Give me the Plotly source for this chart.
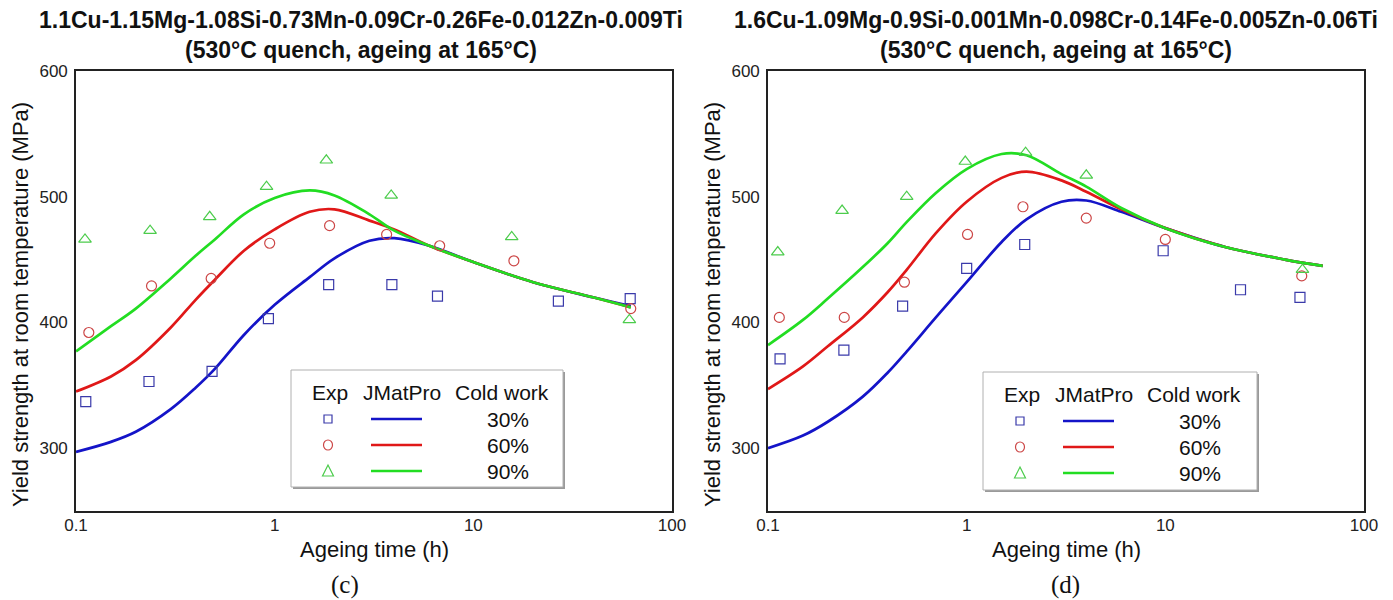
import plotly.graph_objects as go

# ---------------- data ----------------
# Panel (c): 1.1Cu-1.15Mg-1.08Si-...
c_exp30_t = [0.112, 0.233, 0.484, 0.93, 1.87, 3.89, 6.6, 26.8, 61.6]
c_exp30_y = [337, 353, 361, 403, 430, 430, 421, 417, 419]
c_exp60_t = [0.116, 0.24, 0.479, 0.944, 1.89, 3.66, 6.77, 16, 62]
c_exp60_y = [392, 429, 435, 463, 477, 470, 461, 449, 411]
c_exp90_t = [0.111, 0.236, 0.471, 0.91, 1.82, 3.86, 15.6, 61]
c_exp90_y = [466, 473, 484, 508, 529, 501, 468, 402]

model_t = [0.1, 0.15, 0.2, 0.3, 0.4, 0.5, 0.7, 1, 1.5, 2, 3, 4, 6, 10, 20, 40, 62]
c_model30 = [297, 305, 313, 331, 348, 363, 390, 414, 436, 451, 465, 467, 461, 448, 432, 420, 413]
c_model60 = [345, 357, 370, 396, 418, 434, 457, 474, 488, 490, 481, 474, 461, 448, 432, 420, 412]
c_model90 = [377, 397, 411, 435, 453, 466, 486, 499, 505, 501, 486, 473, 461, 448, 432, 420, 412]

# Panel (d): 1.6Cu-1.09Mg-0.9Si-...
d_exp30_t = [0.115, 0.241, 0.476, 1.0, 1.96, 9.75, 23.9, 47.6]
d_exp30_y = [371, 378, 413, 443, 462, 457, 426, 420]
d_exp60_t = [0.114, 0.242, 0.486, 1.01, 1.92, 4.0, 10, 48.6]
d_exp60_y = [404, 404, 432, 470, 492, 483, 466, 437]
d_exp90_t = [0.112, 0.236, 0.499, 0.984, 1.98, 4.0, 49]
d_exp90_y = [456, 489, 500, 528, 535, 517, 442]

d_model30 = [300, 310, 321, 341, 360, 377, 404, 432, 464, 482, 496, 497, 488, 475, 460, 450, 445]
d_model60 = [347, 365, 381, 404, 424, 442, 471, 496, 515, 520, 513, 504, 490, 475, 460, 450, 445]
d_model90 = [382, 402, 419, 444, 463, 480, 503, 522, 534, 533, 518, 508, 491, 475, 460, 450, 445]

x_tickvals = [0.1, 1, 10, 100]
x_ticktext = ["0.1", "1", "10", "100"]
y_tickvals = [300, 400, 500, 600]
cold_work = ["30%", "60%", "90%"]

titles = [
    "1.1Cu-1.15Mg-1.08Si-0.73Mn-0.09Cr-0.26Fe-0.012Zn-0.009Ti",
    "1.6Cu-1.09Mg-0.9Si-0.001Mn-0.098Cr-0.14Fe-0.005Zn-0.06Ti",
]
subtitle = "(530°C quench, ageing at 165°C)"
captions = ["(c)", "(d)"]

# ---------------- styles ----------------
W, H = 1393, 600
FONT = "Liberation Sans, Arial, Helvetica, sans-serif"
line_cols = ["#1414c8", "#e01818", "#22dd22"]
mk_cols = ["#3a3aaa", "#cc4646", "#4ccc4c"]
symbols = ["square-open", "circle-open", "triangle-up-open"]


def px(x):
    return x / W


def py(y):
    return 1 - y / H


fig = go.Figure()

panels = [
    (c_exp30_t, c_exp30_y, c_exp60_t, c_exp60_y, c_exp90_t, c_exp90_y,
     [c_model30, c_model60, c_model90]),
    (d_exp30_t, d_exp30_y, d_exp60_t, d_exp60_y, d_exp90_t, d_exp90_y,
     [d_model30, d_model60, d_model90]),
]

for i, p in enumerate(panels):
    xa = "x" if i == 0 else "x2"
    ya = "y" if i == 0 else "y2"
    exps = [(p[0], p[1]), (p[2], p[3]), (p[4], p[5])]
    for k in range(3):
        fig.add_trace(go.Scatter(
            x=model_t, y=p[6][k], mode="lines", line_shape="spline",
            line=dict(color=line_cols[k], width=2.7),
            xaxis=xa, yaxis=ya, showlegend=False, hoverinfo="skip"))
    for k in range(3):
        fig.add_trace(go.Scatter(
            x=exps[k][0], y=exps[k][1], mode="markers",
            marker=dict(symbol=symbols[k], size=10 if k < 2 else 11,
                        color=mk_cols[k], line=dict(width=1.2, color=mk_cols[k])),
            xaxis=xa, yaxis=ya, showlegend=False))

# plot areas (pixels)
plot_l = [76, 768]
plot_r = [672, 1364]
plot_t, plot_b = 71, 511

axis_common = dict(
    showgrid=False, zeroline=False, showline=True, linecolor="#222",
    linewidth=1.6, mirror=True, ticks="", automargin=False,
    tickfont=dict(family=FONT, size=17, color="#222"),
)
for i in range(2):
    sfx = "" if i == 0 else "2"
    fig.layout["xaxis" + sfx] = dict(
        axis_common, type="log", range=[-1, 2],
        domain=[px(plot_l[i]), px(plot_r[i])],
        tickvals=x_tickvals, ticktext=x_ticktext,
        anchor="y" + sfx, ticklabelstandoff=-2)
    fig.layout["yaxis" + sfx] = dict(
        axis_common, range=[250, 600],
        domain=[py(plot_b), py(plot_t)],
        tickvals=y_tickvals, anchor="x" + sfx, ticklabelstandoff=3)

annotations = []
shapes = []

title_cx = [361, 1056]
for i in range(2):
    annotations.append(dict(
        x=px(title_cx[i]), y=py(20), xref="paper", yref="paper",
        text="<b>%s</b>" % titles[i], showarrow=False,
        xanchor="center", yanchor="middle",
        font=dict(family=FONT, size=23, color="#111")))
    annotations.append(dict(
        x=px(title_cx[i]), y=py(50), xref="paper", yref="paper",
        text="<b>%s</b>" % subtitle, showarrow=False,
        xanchor="center", yanchor="middle",
        font=dict(family=FONT, size=23, color="#111")))
    cx = (plot_l[i] + plot_r[i]) / 2
    annotations.append(dict(
        x=px(cx), y=py(549), xref="paper", yref="paper",
        text="Ageing time (h)", showarrow=False,
        xanchor="center", yanchor="middle",
        font=dict(family=FONT, size=22, color="#111")))
    annotations.append(dict(
        x=px(plot_l[i] - 56), y=py(305), xref="paper", yref="paper",
        text="Yield strength at room temperature (MPa)", showarrow=False,
        textangle=-90, xanchor="center", yanchor="middle",
        font=dict(family=FONT, size=22, color="#111")))

cap_x = [345, 1065]
for i in range(2):
    annotations.append(dict(
        x=px(cap_x[i]), y=py(585), xref="paper", yref="paper",
        text=captions[i], showarrow=False, xanchor="center", yanchor="middle",
        font=dict(family="Liberation Serif, Times New Roman, serif", size=25, color="#111")))

# custom legends
boxes = [(291, 370, 563, 487), (983, 372, 1257, 490)]
for (bl, bt, br, bb) in boxes:
    shapes.append(dict(type="rect", xref="paper", yref="paper",
                       x0=px(bl + 2), x1=px(br + 2), y0=py(bb + 2), y1=py(bt + 2),
                       line=dict(width=0), fillcolor="#9a9a9a", layer="above"))
    shapes.append(dict(type="rect", xref="paper", yref="paper",
                       x0=px(bl), x1=px(br), y0=py(bb), y1=py(bt),
                       line=dict(color="#b0b0b0", width=1), fillcolor="white",
                       layer="above"))
    hy = bt + 22
    for txt, dx in [("Exp", 39), ("JMatPro", 111), ("Cold work", 211)]:
        annotations.append(dict(
            x=px(bl + dx), y=py(hy), xref="paper", yref="paper", text=txt,
            showarrow=False, xanchor="center", yanchor="middle",
            font=dict(family=FONT, size=21, color="#111")))
    rows = [bt + 49, bt + 75, bt + 101]
    for k in range(3):
        ry = rows[k]
        mx = bl + 37
        if k == 0:
            shapes.append(dict(type="rect", xref="paper", yref="paper",
                               x0=px(mx - 4), x1=px(mx + 4), y0=py(ry + 4), y1=py(ry - 4),
                               line=dict(color=mk_cols[0], width=1.2), layer="above"))
        elif k == 1:
            shapes.append(dict(type="circle", xref="paper", yref="paper",
                               x0=px(mx - 4.5), x1=px(mx + 4.5), y0=py(ry + 5), y1=py(ry - 5),
                               line=dict(color=mk_cols[1], width=1.2), layer="above"))
        else:
            path = "M %f,%f L %f,%f L %f,%f Z" % (
                px(mx - 5.5), py(ry + 5), px(mx + 5.5), py(ry + 5), px(mx), py(ry - 6))
            shapes.append(dict(type="path", xref="paper", yref="paper", path=path,
                               line=dict(color=mk_cols[2], width=1.2), layer="above"))
        shapes.append(dict(type="line", xref="paper", yref="paper",
                           x0=px(bl + 80), x1=px(bl + 131), y0=py(ry), y1=py(ry),
                           line=dict(color=line_cols[k], width=2.7), layer="above"))
        annotations.append(dict(
            x=px(bl + 217), y=py(ry), xref="paper", yref="paper", text=cold_work[k],
            showarrow=False, xanchor="center", yanchor="middle",
            font=dict(family=FONT, size=21, color="#111")))

fig.update_layout(
    width=W, height=H, margin=dict(l=0, r=0, t=0, b=0, autoexpand=False),
    paper_bgcolor="white", plot_bgcolor="white",
    annotations=annotations, shapes=shapes, showlegend=False,
    font=dict(family=FONT),
)

fig.write_html(
    "out.html",
    config={"displayModeBar": False},
    post_script="document.body.style.margin='0';document.body.style.overflow='hidden';",
)
